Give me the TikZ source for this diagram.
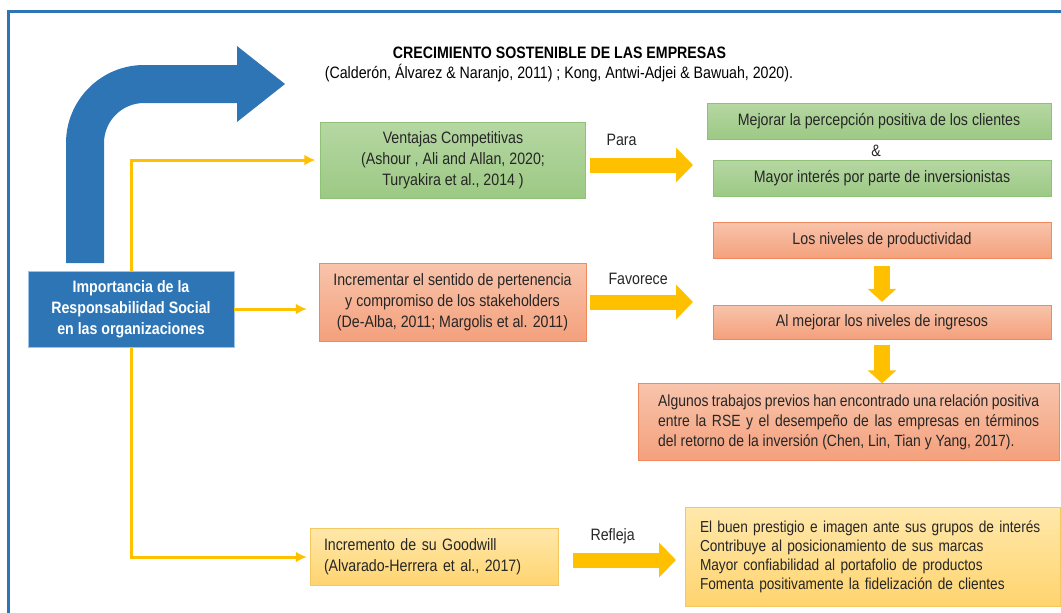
\documentclass[tikz,border=0pt]{standalone}
\usepackage{fontspec}
\setmainfont{Liberation Sans}[FakeStretch=0.86]
\usetikzlibrary{positioning, arrows.meta}

\definecolor{rsblue}{HTML}{2E75B6}
\definecolor{rslight}{HTML}{9DC3E6}
\definecolor{rsyellow}{HTML}{FFC000}
\definecolor{txtgray}{HTML}{262626}
\definecolor{greentop}{HTML}{B6D7A3}
\definecolor{greenbot}{HTML}{9CC984}
\definecolor{greenline}{HTML}{8FC177}
\definecolor{orangetop}{HTML}{F8C4AB}
\definecolor{orangebot}{HTML}{F4A07C}
\definecolor{orangeline}{HTML}{F08A5C}
\definecolor{yellowtop}{HTML}{FFE8AB}
\definecolor{yellowbot}{HTML}{FFD46F}
\definecolor{yellowline}{HTML}{F5C75F}

\begin{document}
\begin{tikzpicture}[x=1pt,y=-1pt, font=\fontsize{16.5}{21}\selectfont, text=txtgray]

\useasboundingbox (0,0) rectangle (1061,613);

\tikzstyle{gbox}=[draw=greenline, top color=greentop, bottom color=greenbot,
inner sep=0pt, align=center];
\tikzstyle{obox}=[draw=orangeline, top color=orangetop, bottom color=orangebot,
inner sep=0pt, align=center];
\tikzstyle{ybox}=[draw=yellowline, top color=yellowtop, bottom color=yellowbot,
inner ysep=0pt, align=left];
\tikzstyle{yline}=[draw=rsyellow, line width=3pt, -{Latex[length=11pt,width=11pt]}];
\tikzstyle{bigarrow}=[draw=rsyellow, line width=15pt, -{Triangle[length=17pt,width=34pt]}];
\tikzstyle{downarrow}=[draw=rsyellow, line width=16pt, -{Triangle[length=13pt,width=28pt]}];

% frame and big arrow
\draw[rsblue, line width=3pt] (8,613) -- (8,11) -- (1061,11);
\fill[rsblue] (66,263) -- (66,143) .. controls (66,100) and (101,65) .. (144,65)
  -- (237,65) -- (237,46) -- (285,84) -- (237,122) -- (237,103) -- (144,103)
  .. controls (122,103) and (104,121) .. (104,143) -- (104,263) -- cycle;

\node[anchor=base, text=black, font=\fontsize{16.5}{18}\selectfont\bfseries, inner sep=1pt] (title) at (559.5,58.5) {CRECIMIENTO SOSTENIBLE DE LAS EMPRESAS};
\node[anchor=base, text=black, font=\fontsize{16.5}{18}\selectfont, inner sep=1pt] (cite) at (559,78) {(Calderón, Álvarez \& Naranjo, 2011) ; Kong, Antwi-Adjei \& Bawuah, 2020).};

\node[draw=rslight, fill=rsblue, text=white, font=\fontsize{16.5}{21}\selectfont\bfseries, align=center, minimum width=206pt, minimum height=76pt, inner sep=0pt] (imp) at (131,309) {Importancia de la \\ Responsabilidad Social \\ en las organizaciones};

\node[gbox, minimum width=265pt, minimum height=76pt] (vent) at (453,160) {Ventajas Competitivas \\ (Ashour , Ali and Allan, 2020; \\ Turyakira et al., 2014 )};
\node[obox, minimum width=267pt, minimum height=78pt] (incr) at (452.5,302) {Incrementar el sentido de pertenencia \\ y compromiso de los stakeholders \\ (De-Alba, 2011; Margolis et al. 2011)};
\node[ybox, inner xsep=14pt, text width=220pt, minimum height=57pt] (good) at (434,557) {Incremento de su Goodwill \\ (Alvarado-Herrera et al., 2017)};

\node[gbox, minimum width=344pt, minimum height=36pt] (g2) at (879,121) {Mejorar la percepción positiva de los clientes};
\node (amp) at (876,151) {\&};
\node[gbox, minimum width=338pt, minimum height=36pt] (g3) at (882,178) {Mayor interés por parte de inversionistas};

\node[obox, minimum width=338pt, minimum height=36pt] (o2) at (882,240.5) {Los niveles de productividad};
\node[obox, minimum width=338pt, minimum height=34pt] (o3) at (882,322) {Al mejorar los niveles de ingresos};
\node[obox, minimum width=421pt, minimum height=77pt, font=\fontsize{16.2}{20}\selectfont] (o4) at (848.7,422) {\makebox[381pt][s]{Algunos trabajos previos han encontrado una relación positiva} \\ \makebox[381pt][s]{entre la RSE y el desempeño de las empresas en términos} \\ \makebox[381pt][l]{del retorno de la inversión (Chen, Lin, Tian y Yang, 2017).}};

\node[ybox, inner xsep=15pt, text width=345pt, minimum height=99pt, font=\fontsize{15.9}{19}\selectfont] (y2) at (872.5,556.7) {El buen prestigio e imagen ante sus grupos de interés \\ Contribuye al posicionamiento de sus marcas \\ Mayor confiabilidad al portafolio de productos \\ Fomenta positivamente la fidelización de clientes};

\node[anchor=base west] (para) at (603,145) {Para};
\node[anchor=base west] (fav) at (605,284) {Favorece};
\node[anchor=base west] (refl) at (587,540) {Refleja};

\coordinate (paratip) at (693,165);
\coordinate (favtip) at (693,302);
\coordinate (refltip) at (676,560);

% lines
\draw[yline, shorten >=5pt] (imp.north) |- (vent.west);
\draw[yline, shorten >=12pt] (imp.east) -- (imp.east -| incr.west);
\draw[yline, shorten >=3pt] (imp.south) |- (good.west);

\draw[bigarrow] ([xshift=4pt,yshift=-5pt]vent.east) -- (paratip);
\draw[bigarrow] ([xshift=4pt]incr.east) -- (favtip);
\draw[bigarrow] ([xshift=15pt,yshift=-3pt]good.east) -- (refltip);

\draw[downarrow] ([yshift=-7pt]o2.south) -- ([yshift=3pt]o3.north);
\draw[downarrow] ([yshift=-6pt]o3.south) -- (o3.south |- o4.north);

\end{tikzpicture}
\end{document}
